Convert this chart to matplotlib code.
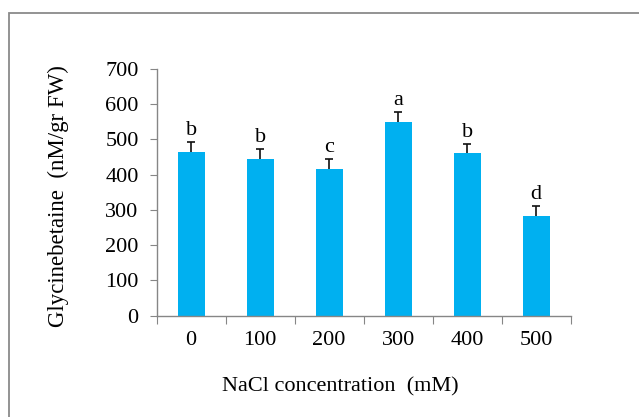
import matplotlib
matplotlib.use("Agg")
from matplotlib import pyplot as plt
from matplotlib.patches import Rectangle
import numpy as np

# NaCl treatments and glycinebetaine content
nacl = ['0', '100', '200', '300', '400', '500']
glycine = [465, 445, 416, 550, 461, 283]
err = [28, 28, 28, 27, 26, 28]
letters = ['b', 'b', 'c', 'a', 'b', 'd']

y_ticks = [0, 100, 200, 300, 400, 500, 600, 700]

plt.rcParams['font.family'] = ['Liberation Serif', 'DejaVu Serif']

fig = plt.figure(figsize=(6.39, 4.17), dpi=100)
ax = fig.add_axes([0.2452, 0.2434, 0.8931 - 0.2452, 0.8345 - 0.2434])

x = np.arange(len(nacl))
ax.bar(x, glycine, width=0.395, color='#00b0f0', zorder=2)
eb = ax.errorbar(x, glycine, yerr=[np.zeros(len(err)), err], fmt='none',
                 ecolor='#111111', elinewidth=1.2, capsize=3, capthick=1.2, zorder=3)
# only the upper cap is wanted
eb[1][0].set_visible(False)

for xi, v, e, l in zip(x, glycine, err, letters):
    ax.annotate(l, (xi, v + e), xytext=(0, 1.5), textcoords='offset points',
                ha='center', va='bottom', fontsize=16)

ax.set_xlim(-0.5, len(nacl) - 0.5)
ax.set_ylim(0, 700)
ax.set_yticks(y_ticks)
ax.set_yticklabels([str(t) for t in y_ticks], fontsize=16)

# ticks between categories, labels under the bars
ax.set_xticks(np.arange(-0.5, len(nacl), 1.0))
ax.set_xticklabels([])
ax.set_xticks(x, minor=True)
ax.set_xticklabels(nacl, minor=True, fontsize=16)
ax.tick_params(axis='x', which='major', length=6, color='#868686', direction='out')
ax.tick_params(axis='x', which='minor', length=0, pad=11)
ax.tick_params(axis='y', length=5, color='#868686', pad=8)

for s in ['top', 'right']:
    ax.spines[s].set_visible(False)
for s in ['left', 'bottom']:
    ax.spines[s].set_color('#868686')
    ax.spines[s].set_linewidth(1.0)

fig.text(58 / 639, 1 - 196 / 417, 'Glycinebetaine  (nM/gr FW)', rotation=90,
         ha='center', va='center', fontsize=16.5)
fig.text(340 / 639, 1 - 387 / 417, 'NaCl concentration  (mM)',
         ha='center', va='center', fontsize=16)

# frame around the figure
fig.add_artist(Rectangle((9 / 639, -0.2), 1.2, 1.2 - 12.5 / 417,
                         transform=fig.transFigure, fill=False,
                         edgecolor='#8a8a8a', linewidth=1.3))

plt.savefig('out.png', dpi=100)
